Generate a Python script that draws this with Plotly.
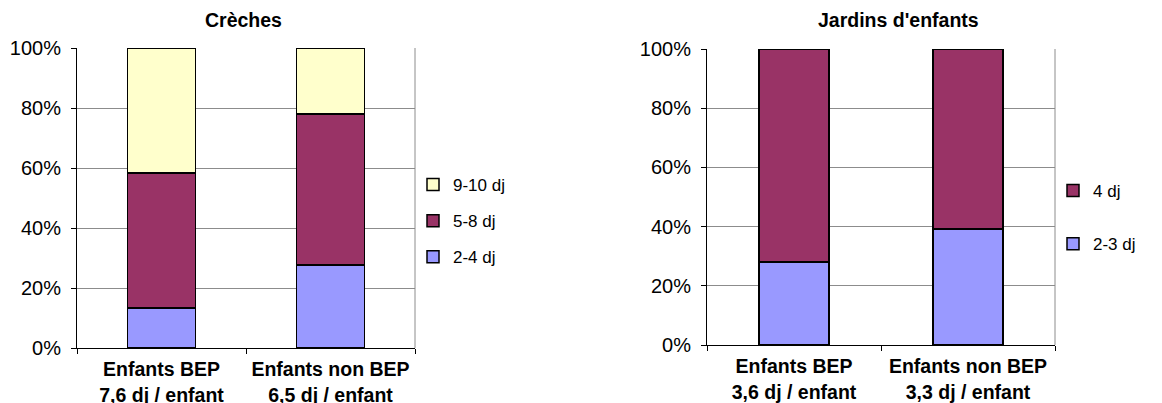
import plotly.graph_objects as go

W, H = 1162, 403
OFF = 8  # page body margin offset

# ---- data ----
categories_creches = ["Enfants BEP<br>7,6 dj / enfant", "Enfants non BEP<br>6,5 dj / enfant"]
creches_2_4 = [0.133, 0.277]
creches_5_8 = [0.450, 0.503]
creches_9_10 = [0.417, 0.220]

categories_jardins = ["Enfants BEP<br>3,6 dj / enfant", "Enfants non BEP<br>3,3 dj / enfant"]
jardins_2_3 = [0.280, 0.392]
jardins_4 = [0.720, 0.608]

C_LOW = "#9999FF"
C_MID = "#993366"
C_HIGH = "#FFFFCC"

FONT = "Liberation Sans, Arial, sans-serif"


def px_x(x):
    return (x - OFF) / W


def px_y(y):
    return 1 - (y - OFF) / H


fig = go.Figure()

line = dict(color="black", width=1.5)

fig.add_trace(go.Bar(x=categories_creches, y=creches_2_4, name="2-4 dj", marker=dict(color=C_LOW, line=line),
                     xaxis="x", yaxis="y", legend="legend", legendgroup="a", legendrank=3))
fig.add_trace(go.Bar(x=categories_creches, y=creches_5_8, name="5-8 dj", marker=dict(color=C_MID, line=line),
                     xaxis="x", yaxis="y", legend="legend", legendgroup="b", legendrank=2))
fig.add_trace(go.Bar(x=categories_creches, y=creches_9_10, name="9-10 dj", marker=dict(color=C_HIGH, line=line),
                     xaxis="x", yaxis="y", legend="legend", legendgroup="c", legendrank=1))

fig.add_trace(go.Bar(x=categories_jardins, y=jardins_2_3, name="2-3 dj", marker=dict(color=C_LOW, line=line),
                     xaxis="x2", yaxis="y2", legend="legend2", legendgroup="d", legendrank=2))
fig.add_trace(go.Bar(x=categories_jardins, y=jardins_4, name="4 dj", marker=dict(color=C_MID, line=line),
                     xaxis="x2", yaxis="y2", legend="legend2", legendgroup="e", legendrank=1))

xcommon = dict(showline=True, linecolor="black", linewidth=1, ticks="outside", tickson="boundaries",
               ticklen=5, tickcolor="black", showgrid=False, range=[-0.5, 1.5], automargin=False,
               ticklabelstandoff=4,
               tickfont=dict(family=FONT, size=19.5, color="black", weight="bold"))
ycommon = dict(showline=True, linecolor="black", linewidth=1, ticks="outside", ticklen=5, tickcolor="black",
               range=[0, 1], dtick=0.2, tickformat=".0%", showgrid=True, gridcolor="#8c8c8c", gridwidth=1,
               tickfont=dict(family=FONT, size=20, color="black"), zeroline=False, automargin=False,
               ticklabelstandoff=6)

fig.update_layout(
    width=W, height=H,
    margin=dict(l=0, r=0, t=0, b=0, autoexpand=False),
    paper_bgcolor="white", plot_bgcolor="white",
    barmode="stack", bargap=0.6,
    showlegend=True,
    xaxis=dict(domain=[px_x(77), px_x(415)], anchor="y", **xcommon),
    yaxis=dict(domain=[px_y(348), px_y(48)], anchor="x", **ycommon),
    xaxis2=dict(domain=[px_x(707), px_x(1055)], anchor="y2", **xcommon),
    yaxis2=dict(domain=[px_y(345), px_y(49)], anchor="x2", **ycommon),
    legend=dict(x=px_x(413), y=px_y(167), xanchor="left", yanchor="top", traceorder="grouped",
                tracegroupgap=11, font=dict(family=FONT, size=17, color="black"), bgcolor="rgba(0,0,0,0)",
                itemwidth=30),
    legend2=dict(x=px_x(1053), y=px_y(173), xanchor="left", yanchor="top", traceorder="grouped",
                 tracegroupgap=28, font=dict(family=FONT, size=17, color="black"), bgcolor="rgba(0,0,0,0)",
                 itemwidth=30),
    annotations=[
        dict(text="<b>Crèches</b>", x=px_x(243), y=px_y(20), xref="paper", yref="paper",
             xanchor="center", yanchor="middle",
             showarrow=False, font=dict(family=FONT, size=19.5, color="black")),
        dict(text="<b>Jardins d'enfants</b>", x=px_x(898), y=px_y(20), xref="paper", yref="paper",
             xanchor="center", yanchor="middle",
             showarrow=False, font=dict(family=FONT, size=19.5, color="black")),
    ],
    shapes=[
        dict(type="line", xref="x domain", yref="y domain", x0=1, x1=1, y0=0, y1=1,
             line=dict(color="#8c8c8c", width=1), layer="below"),
        dict(type="line", xref="x2 domain", yref="y2 domain", x0=1, x1=1, y0=0, y1=1,
             line=dict(color="#8c8c8c", width=1), layer="below"),
    ],
)

fig.write_html("out.html")
